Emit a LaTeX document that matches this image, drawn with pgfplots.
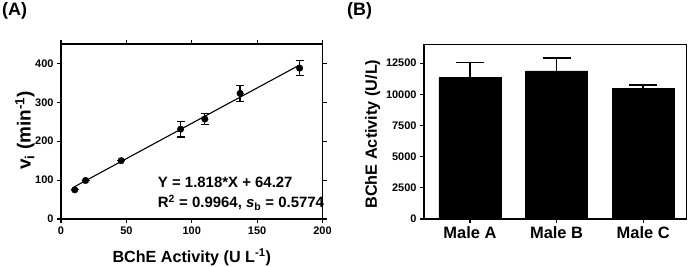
\documentclass[border=0pt]{standalone}
\usepackage{fontspec}
\setmainfont{Liberation Sans}
\usepackage{pgfplots}
\usepackage{pgfplotstable}
\pgfplotsset{compat=1.18}

% Calibration: initial rate vs. BChE activity
\pgfplotstableread{
x     y    e
10.5  75   0
18.8  99   0
46    150  0
91.5  231  20
110   257  14
137   323  20
182.5 388  19
}\calib

% Linear fit Y = 1.818*X + 64.27, end points
\pgfplotstableread{
x     y
10    82.45
182.5 396.06
}\fit

% Serum BChE activity of three donors
\pgfplotstableread{
idx val   err
0   11350 1200
1   11880 1050
2   10460 280
}\bche

\pgfplotsset{
  panel/.style={
    scale only axis,
    anchor=south west,
    tick align=outside,
    major tick length=4bp,
    axis line style={line width=1.2bp},
    every tick/.style={line width=1.2bp, black},
    tick label style={font=\fontsize{11}{13}\selectfont\bfseries},
    xticklabel={\pgfmathprintnumber[assume math mode=true,1000 sep={}]{\tick}},
    yticklabel={\pgfmathprintnumber[assume math mode=true,1000 sep={}]{\tick}},
    scaled ticks=false,
  },
}

\begin{document}
\begin{tikzpicture}
\path[use as bounding box] (0,0) rectangle (690bp,267bp);

\node[anchor=north west, inner sep=0, font=\fontsize{18}{20}\selectfont\bfseries] at (2bp,265bp) {(A)};
\node[anchor=north west, inner sep=0, font=\fontsize{18}{20}\selectfont\bfseries] at (347bp,265bp) {(B)};

% (A) calibration curve
\begin{axis}[panel,
  at={(61bp,48bp)}, width=261.5bp, height=175bp,
  xmin=0, xmax=200, ymin=0, ymax=450,
  xtick={0,50,...,200}, ytick={0,100,...,400},
  clip=false,
  xlabel={BChE Activity (U L\textsuperscript{-1})},
  ylabel={v\textsubscript{i} (min\textsuperscript{-1})},
  xlabel style={font=\fontsize{16.2}{18}\selectfont\bfseries,
    at={(axis description cs:0.5,-0.217)}, anchor=center},
  ylabel style={font=\fontsize{19}{21}\selectfont\bfseries,
    at={(axis description cs:-0.138,0.506)}, anchor=center},
]
\addplot[black, line width=1.1bp] table[x=x, y=y] {\fit};
\addplot[only marks, mark=*, mark size=3.3bp, black,
  error bars/.cd, y dir=both, y explicit,
  error bar style={line width=1.3bp},
  error mark options={rotate=90, mark size=4bp, line width=1.3bp}]
  table[x=x, y=y, y error=e] {\calib};
\node[anchor=west, inner sep=0, font=\fontsize{15}{17}\selectfont\bfseries]
  at (rel axis cs:0.37,0.207) {Y = 1.818*X + 64.27};
\node[anchor=west, inner sep=0, font=\fontsize{15}{17}\selectfont\bfseries]
  at (rel axis cs:0.37,0.093) {R\textsuperscript{2} = 0.9964, \textit{s}\textsubscript{b} = 0.5774};
\end{axis}

% (B) serum activity
\begin{axis}[panel,
  at={(424bp,48bp)}, width=262.5bp, height=174.5bp,
  xmin=-0.53, xmax=2.5, ymin=0, ymax=14000,
  xtick={0,1,2}, xticklabels={Male A, Male B, Male C},
  ytick={0,2500,...,12500},
  xtick pos=bottom, ytick pos=left,
  xticklabel style={font=\fontsize{16.5}{18}\selectfont\bfseries},
  ylabel={BChE Activity (U/L)},
  ylabel style={font=\fontsize{16.3}{18}\selectfont\bfseries,
    at={(axis description cs:-0.196,0.487)}, anchor=center},
]
\addplot[ybar, bar width=62bp, fill=black, draw=black,
  error bars/.cd, y dir=plus, y explicit,
  error bar style={line width=1.4bp},
  error mark options={rotate=90, mark size=14bp, line width=1.4bp}]
  table[x=idx, y=val, y error=err] {\bche};
\end{axis}
\end{tikzpicture}
\end{document}
